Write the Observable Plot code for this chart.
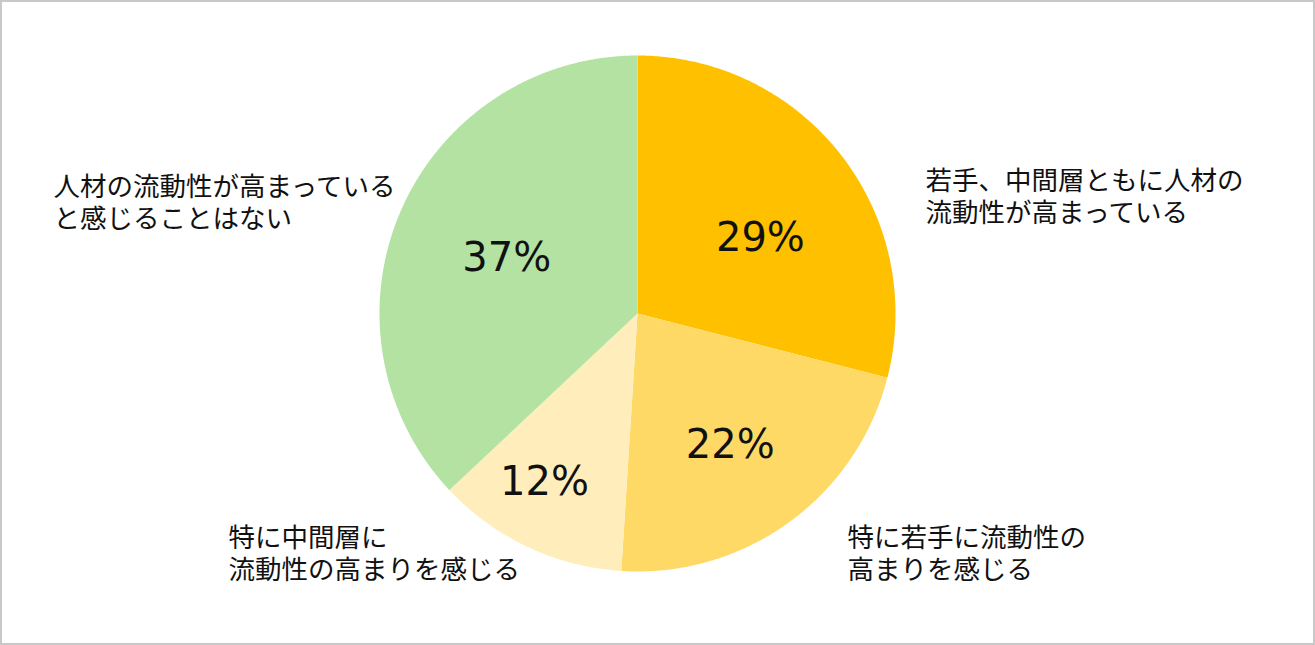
<!DOCTYPE html>
<html>
<head>
<meta charset="utf-8">
<script src="https://cdn.jsdelivr.net/npm/d3@7"></script>
<script src="https://cdn.jsdelivr.net/npm/@observablehq/plot@0.6"></script>
<style>
  html, body { margin: 0; padding: 0; background: #fff; }
  #frame {
    width: 1315px; height: 645px; box-sizing: border-box;
    border: 2px solid #c8c8c8; position: relative; overflow: hidden; background: #fff;
  }
  #frame svg { display: block; }
</style>
</head>
<body>
<div id="frame"></div>
<script>
// ---- data ----
const categories = [
  "若手、中間層ともに人材の流動性が高まっている",
  "特に若手に流動性の高まりを感じる",
  "特に中間層に流動性の高まりを感じる",
  "人材の流動性が高まっていると感じることはない"
];
const values = [29, 22, 12, 37];
const labelLines = [
  "若手、中間層ともに人材の\n流動性が高まっている",
  "特に若手に流動性の\n高まりを感じる",
  "特に中間層に\n流動性の高まりを感じる",
  "人材の流動性が高まっている\nと感じることはない"
];
const colors = ["#FFC000", "#FFD966", "#FFEEBC", "#B3E2A2"];

// ---- layout (pie units: radius = 1) ----
const W = 1311, H = 641, cx = 635, cy = 311, R = 258;
const innerLabelRadius = [0.558, 0.624, 0.748, 0.55];
const innerLabelTurn = [6.4, 0.8, 3.6, -0.6]; // degrees
const outerLabelAnchor = [[1.116, -0.455], [0.814, 0.928], [-1.585, 0.928], [-2.264, -0.434]];

const arcs = d3.pie().sort(null).value(d => d)(values);

const slicePts = [];
arcs.forEach((a, i) => {
  const n = Math.max(2, Math.ceil((a.endAngle - a.startAngle) / (Math.PI / 360)));
  slicePts.push({cat: categories[i], x: 0, y: 0});
  for (let k = 0; k <= n; k++) {
    const t = a.startAngle + (a.endAngle - a.startAngle) * k / n;
    slicePts.push({cat: categories[i], x: Math.sin(t), y: -Math.cos(t)});
  }
  slicePts.push({cat: categories[i], x: 0, y: 0});
});

const pctLabels = arcs.map((a, i) => {
  const m = (a.startAngle + a.endAngle) / 2 + innerLabelTurn[i] * Math.PI / 180;
  const r = innerLabelRadius[i];
  return {x: r * Math.sin(m), y: -r * Math.cos(m), text: values[i] + "%"};
});

const outerLabels = labelLines.map((t, i) => ({x: outerLabelAnchor[i][0], y: outerLabelAnchor[i][1], text: t}));

const chart = Plot.plot({
  width: W,
  height: H,
  margin: 0,
  style: {background: "#fff"},
  x: {domain: [-cx / R, (W - cx) / R], range: [0, W], axis: null},
  y: {domain: [-cy / R, (H - cy) / R], range: [0, H], axis: null},
  color: {domain: categories, range: colors},
  marks: [
    Plot.line(slicePts, {x: "x", y: "y", z: "cat", fill: "cat", stroke: "none"}),
    Plot.text(pctLabels, {x: "x", y: "y", text: "text", fontSize: 40, fontFamily: "DejaVu Sans", fill: "#111"}),
    Plot.text(outerLabels, {x: "x", y: "y", text: "text", textAnchor: "start", fontSize: 26.5, lineHeight: 1.2, fontFamily: "Noto Sans CJK JP", fill: "#111"})
  ]
});
document.getElementById("frame").appendChild(chart);
</script>
</body>
</html>
